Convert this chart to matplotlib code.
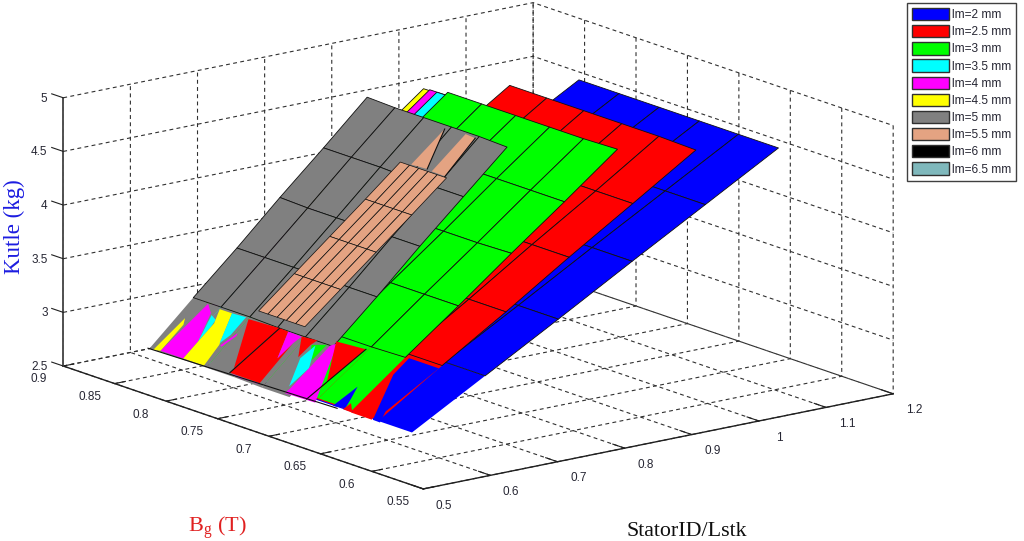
import numpy as np
import matplotlib

matplotlib.use("Agg")
import matplotlib.pyplot as plt
from matplotlib.patches import Patch
from mpl_toolkits.mplot3d.art3d import Poly3DCollection

lm_labels = ["lm=2 mm", "lm=2.5 mm", "lm=3 mm", "lm=3.5 mm", "lm=4 mm", "lm=4.5 mm",
             "lm=5 mm", "lm=5.5 mm", "lm=6 mm", "lm=6.5 mm"]
lm_colors = ["#0000ff", "#ff0000", "#00ff00", "#00ffff", "#ff00ff", "#ffff00",
             "#808080", "#e4a382", "#000000", "#7fb8bc"]

ratio_ticks = [0.5, 0.6, 0.7, 0.8, 0.9, 1.0, 1.1, 1.2]
ratio_labels = ["0.5", "0.6", "0.7", "0.8", "0.9", "1", "1.1", "1.2"]
bg_ticks = [0.55, 0.6, 0.65, 0.7, 0.75, 0.8, 0.85, 0.9]
bg_labels = ["0.55", "0.6", "0.65", "0.7", "0.75", "0.8", "0.85", "0.9"]
kg_ticks = [2.5, 3, 3.5, 4, 4.5, 5]
kg_labels = ["2.5", "3", "3.5", "4", "4.5", "5"]

# surfaces: ratio (rows), Bg (columns), mass
blue_r = [0.5, 0.609, 0.718, 0.828, 0.937, 1.046]
blue_b = [0.561, 0.6, 0.638, 0.677, 0.716, 0.755]
blue_kg = [[2.99, 2.99, 2.99, 2.99, 2.98, 2.98],
           [3.38, 3.38, 3.38, 3.38, 3.38, 3.38],
           [3.77, 3.77, 3.77, 3.77, 3.77, 3.77],
           [4.17, 4.17, 4.17, 4.16, 4.16, 4.16],
           [4.56, 4.56, 4.56, 4.56, 4.56, 4.56],
           [4.95, 4.95, 4.95, 4.95, 4.95, 4.95]]
red_r = [0.5, 0.594, 0.689, 0.783, 0.878, 0.972]
red_b = [0.593, 0.629, 0.665, 0.702, 0.738, 0.774]
red_kg = [[3.00, 3.00, 3.00, 3.01, 3.01, 3.01],
          [3.39, 3.39, 3.39, 3.39, 3.39, 3.39],
          [3.77, 3.77, 3.77, 3.77, 3.77, 3.77],
          [4.16, 4.16, 4.16, 4.16, 4.16, 4.16],
          [4.54, 4.54, 4.54, 4.54, 4.54, 4.54],
          [4.92, 4.93, 4.93, 4.93, 4.93, 4.93]]
green_r = [0.5, 0.579, 0.658, 0.737, 0.816, 0.895]
green_b = [0.619, 0.652, 0.685, 0.718, 0.751, 0.784]
green_kg = [[3.01, 3.01, 3.01, 3.00, 3.00, 3.00],
            [3.40, 3.39, 3.39, 3.39, 3.39, 3.39],
            [3.78, 3.78, 3.78, 3.77, 3.77, 3.77],
            [4.17, 4.16, 4.16, 4.16, 4.16, 4.16],
            [4.55, 4.55, 4.55, 4.55, 4.54, 4.54],
            [4.94, 4.93, 4.93, 4.93, 4.93, 4.93]]
cyan_r = [0.5, 0.895]
cyan_b = [0.655, 0.795]
cyan_kg = [[3.00, 2.98], [4.92, 4.90]]
magenta_r = [0.5, 0.895]
magenta_b = [0.660, 0.802]
magenta_kg = [[2.99, 2.97], [4.91, 4.90]]
yellow_r = [0.5, 0.895]
yellow_b = [0.665, 0.808]
yellow_kg = [[2.98, 2.96], [4.91, 4.89]]
gray_r = [0.5, 0.565, 0.630, 0.694, 0.759, 0.824]
gray_b = [0.680, 0.707, 0.734, 0.761, 0.789, 0.816]
gray_kg = [[2.93, 2.93, 2.94, 2.94, 2.94, 2.94],
           [3.32, 3.32, 3.32, 3.33, 3.33, 3.33],
           [3.70, 3.70, 3.71, 3.71, 3.71, 3.71],
           [4.09, 4.09, 4.09, 4.09, 4.09, 4.10],
           [4.47, 4.47, 4.47, 4.48, 4.48, 4.48],
           [4.85, 4.86, 4.86, 4.86, 4.86, 4.87]]
brown_r = [0.575, 0.628, 0.681, 0.734, 0.786]
brown_b = [0.714, 0.723, 0.732, 0.741, 0.750, 0.759]
brown_kg = [[3.38] * 6, [3.66] * 6, [3.94] * 6, [4.22] * 6, [4.50] * 6]

# overlapping pieces along the low edge: (ratio, Bg, mass) corners
patch_colors = ["#ffff00", "#ff00ff", "#00ffff", "#ffff00", "#00ffff", "#ff00ff", "#ff0000",
                "#ff0000", "#ff00ff", "#ff00ff", "#ff0000", "#00ff00", "#00ffff", "#ff00ff",
                "#ff0000", "#0000ff", "#ff0000", "#ff0000", "#0000ff"]
patch_corners = [
    [(.499, .812, 2.939), (.542, .809, 3.191), (.535, .806, 3.148), (.501, .806, 2.949)],
    [(.501, .806, 2.948), (.564, .801, 3.323), (.556, .793, 3.273), (.523, .784, 3.079), (.501, .784, 2.949)],
    [(.523, .784, 3.079), (.554, .791, 3.263), (.551, .785, 3.241), (.541, .784, 3.182)],
    [(.501, .784, 2.949), (.501, .764, 2.946), (.527, .766, 3.101), (.563, .777, 3.314), (.563, .789, 3.313), (.547, .784, 3.218)],
    [(.529, .767, 3.111), (.563, .777, 3.314), (.564, .764, 3.319), (.541, .764, 3.182)],
    [(.527, .765, 3.099), (.545, .760, 3.207), (.542, .759, 3.188), (.526, .763, 3.096)],
    [(.563, .761, 3.312), (.565, .732, 3.320), (.509, .740, 2.991)],
    [(.503, .740, 2.958), (.565, .732, 3.320), (.564, .723, 3.319), (.534, .714, 3.137), (.554, .712, 3.258), (.503, .711, 2.955)],
    [(.534, .714, 3.137), (.564, .723, 3.319), (.564, .710, 3.315), (.554, .712, 3.258)],
    [(.503, .739, 2.954), (.502, .714, 2.945), (.503, .710, 2.951), (.501, .729, 2.945)],
    [(.542, .699, 3.186), (.564, .710, 3.316), (.566, .696, 3.323), (.559, .698, 3.283)],
    [(.559, .697, 3.286), (.565, .686, 3.316), (.547, .687, 3.210), (.540, .688, 3.171)],
    [(.510, .687, 2.994), (.542, .697, 3.184), (.560, .694, 3.289), (.535, .684, 3.141)],
    [(.502, .686, 2.946), (.503, .657, 2.950), (.570, .679, 3.346), (.565, .683, 3.318), (.535, .684, 3.141), (.509, .685, 2.985)],
    [(.571, .681, 3.356), (.574, .654, 3.367), (.504, .666, 2.953), (.526, .661, 3.088), (.544, .669, 3.194)],
    [(.506, .642, 2.965), (.508, .631, 2.977), (.520, .633, 3.049), (.534, .636, 3.129)],
    [(.506, .632, 2.967), (.515, .630, 3.018), (.506, .623, 2.964)],
    [(.506, .624, 2.962), (.506, .604, 2.961), (.525, .608, 3.076), (.560, .618, 3.281)],
    [(.506, .603, 2.963), (.506, .596, 2.961), (.519, .599, 3.037), (.580, .587, 3.401), (.580, .616, 3.401), (.558, .617, 3.272)],
]
spike_corners = [
    [(.773, .740, 4.555), (.820, .738, 4.834), (.774, .725, 4.562)],
    [(.773, .720, 4.557), (.822, .719, 4.846), (.821, .709, 4.842), (.773, .707, 4.554)],
]
edge_lines = [
    [(.503, .740, 2.958), (.565, .732, 3.320)],
    [(.504, .666, 2.953), (.574, .654, 3.367)],
    [(.499, .817, 2.939), (.505, .637, 2.960)],
    [(.820, .738, 4.834), (.774, .725, 4.562)],
    [(.821, .709, 4.842), (.773, .707, 4.554)],
]

plt.rcParams["font.family"] = ["Liberation Sans"]
plt.rcParams["grid.linestyle"] = "--"
plt.rcParams["grid.linewidth"] = 0.8
plt.rcParams["grid.color"] = "#303030"
plt.rcParams["lines.dashed_pattern"] = [3.5, 3.0]

fig = plt.figure(figsize=(10.24, 5.41), dpi=100)
ax = fig.add_axes([-138 / 1024, -321 / 541, 1200 / 1024, 1200 / 541],
                  projection="3d", proj_type="ortho")
ax.computed_zorder = False
ax.set_box_aspect((593, 590, 278), zoom=0.7132)
ax.view_init(elev=15.24, azim=-127.6)
ax.set_xlim(0.5, 1.2, view_margin=0)
ax.set_ylim(0.55, 0.9, view_margin=0)
ax.set_zlim(2.5, 5, view_margin=0)


def draw_surface(r, b, kg, color, z, low_row_plain=True, mesh_lw=0.6):
    X, Y = np.meshgrid(r, b, indexing="ij")
    Z = np.array(kg)
    start = 1 if low_row_plain else 0
    if low_row_plain:  # the lowest row fights with the others, no mesh shows there
        ax.plot_surface(X[:2], Y[:2], Z[:2], color=color, shade=False, linewidth=0,
                        rstride=1, cstride=1, zorder=z)
    ax.plot_surface(X[start:], Y[start:], Z[start:], color=color, edgecolor="#101010",
                    linewidth=mesh_lw, shade=False, rstride=1, cstride=1, zorder=z + 0.1)


draw_surface(blue_r, blue_b, blue_kg, lm_colors[0], 1)
draw_surface(red_r, red_b, red_kg, lm_colors[1], 2)
draw_surface(yellow_r, yellow_b, yellow_kg, lm_colors[5], 3, low_row_plain=False)
draw_surface(magenta_r, magenta_b, magenta_kg, lm_colors[4], 4, low_row_plain=False)
draw_surface(cyan_r, cyan_b, cyan_kg, lm_colors[3], 5, low_row_plain=False)
draw_surface(green_r, green_b, green_kg, lm_colors[2], 6)
draw_surface(gray_r, gray_b, gray_kg, lm_colors[6], 7)

for k, (color, corners) in enumerate(zip(patch_colors, patch_corners)):
    ax.add_collection3d(Poly3DCollection([corners], facecolors=color, edgecolors="none",
                                         zorder=10 + k * 0.01))

draw_surface(brown_r, brown_b, brown_kg, lm_colors[7], 20, low_row_plain=False, mesh_lw=0.5)
for corners in spike_corners:
    ax.add_collection3d(Poly3DCollection([corners], facecolors=lm_colors[7], edgecolors="none",
                                         zorder=21))
for line in edge_lines:
    ax.plot(*zip(*line), color="#101010", lw=0.8, zorder=22)

ax.set_xticks(ratio_ticks, ratio_labels)
ax.set_yticks(bg_ticks, bg_labels)
ax.set_zticks(kg_ticks, kg_labels)
ax.zaxis._get_tickdir = lambda pos: 1  # z ticks along Bg, like the original
for axis, outward in ((ax.xaxis, 0.41), (ax.yaxis, 0.28), (ax.zaxis, 0.4)):
    axis.set_pane_color((1, 1, 1, 0))
    axis.pane.set_edgecolor((1, 1, 1, 0))
    axis.line.set_color("#202020")
    axis.line.set_linewidth(1.0)
    axis._axinfo["tick"]["outward_factor"] = outward
    axis._axinfo["tick"]["inward_factor"] = 0.0
    axis._axinfo["tick"]["linewidth"] = {True: 0.8, False: 0.5}
ax.zaxis.line.set_color("#505050")
ax.zaxis.line.set_linewidth(1.4)
ax.tick_params(axis="x", labelsize=8.5, pad=18, color="#202020", labelcolor="#262633")
ax.tick_params(axis="y", labelsize=8.5, pad=16, color="#202020", labelcolor="#262633")
ax.tick_params(axis="z", labelsize=8.5, pad=0.5, color="#202020", labelcolor="#262633")
for lab in ax.get_xticklabels() + ax.get_yticklabels():
    lab.set_va("bottom")
for lab in ax.get_zticklabels():
    lab.set_va("center_baseline")
    lab.set_ha("right")

fig.text(14 / 1024, 1 - 227 / 541, "Kutle (kg)", color="#1c1ce0", rotation=90, fontsize=16.5,
         family="Liberation Serif", ha="center", va="center")
fig.text(188 / 1024, 1 - 532 / 541, r"B$_{\mathregular{g}}$ (T)", color="#e02020", fontsize=16,
         family="Liberation Serif", ha="left", va="baseline")
fig.text(627 / 1024, 1 - 536 / 541, "StatorID/Lstk", color="#101010", fontsize=15.8,
         family="Liberation Serif", ha="left", va="baseline")

handles = [Patch(facecolor=c, edgecolor="#303030", linewidth=1.0) for c in lm_colors]
leg = fig.legend(handles, lm_labels, loc="upper left", bbox_to_anchor=(906.5 / 1024, 1 - 3 / 541),
                 fontsize=8.6, fancybox=False, framealpha=1, edgecolor="#404040", borderaxespad=0,
                 borderpad=0.42, handlelength=3.1, handleheight=1.2, handletextpad=0.3,
                 labelspacing=0.335, labelcolor="#262633")
leg.get_frame().set_linewidth(1.0)

fig.savefig("out.png", dpi=100)
